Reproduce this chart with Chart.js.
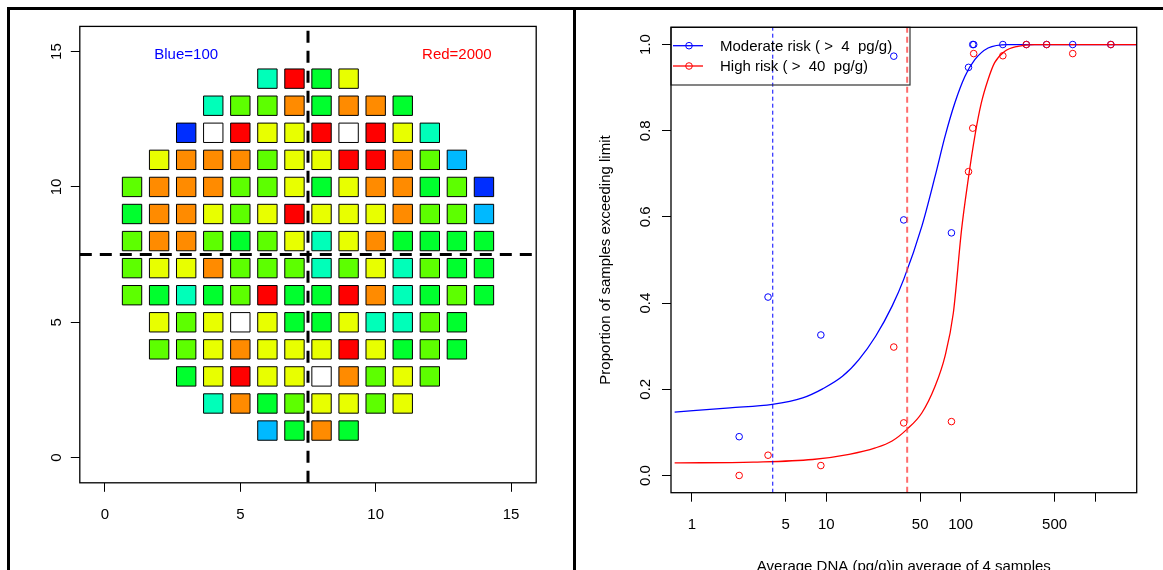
<!DOCTYPE html>
<html>
<head>
<meta charset="utf-8">
<script src="https://cdn.jsdelivr.net/npm/chart.js@4.4.0/dist/chart.umd.min.js"></script>
<style>
  html, body { margin: 0; padding: 0; background: #fff; }
  body { width: 1163px; height: 570px; position: relative; overflow: hidden; }
  .rule { position: absolute; background: #000; }
  #gridWrap { position: absolute; left: 10px; top: 10px; width: 563px; height: 560px; }
  #riskWrap { position: absolute; left: 577px; top: 10px; width: 586px; height: 560px; }
</style>
</head>
<body>
<div class="rule" style="left:7px; top:7px; width:1156px; height:3px;"></div>
<div class="rule" style="left:7px; top:7px; width:3px; height:563px;"></div>
<div class="rule" style="left:573px; top:7px; width:3px; height:563px;"></div>
<div id="gridWrap"><canvas id="gridChart" width="563" height="560"></canvas></div>
<div id="riskWrap"><canvas id="riskChart" width="586" height="560"></canvas></div>

<script>
Chart.defaults.font.family = '"Liberation Sans", Arial, Helvetica, sans-serif';
Chart.defaults.font.size = 15;
Chart.defaults.color = '#000';

// ---------- left panel: sampling grid ----------
// colour ramp, low (Blue=100) to high (Red=2000); last entry = white
const levelColors = ['#002EFF', '#00B9FF', '#00FFB9', '#00FF2E', '#5DFF00', '#E8FF00', '#FF8B00', '#FF0000', '#FFFFFF'];
const rowY      = [14, 13, 12, 11, 10, 9, 8, 7, 6, 5, 4, 3, 2, 1];
const rowStartX = [6, 4, 3, 2, 1, 1, 1, 1, 1, 2, 2, 3, 4, 6];
const rowLevels = [
  [2, 7, 3, 5],
  [2, 4, 4, 6, 3, 6, 6, 3],
  [0, 8, 7, 5, 5, 7, 8, 7, 5, 2],
  [5, 6, 6, 6, 4, 5, 5, 7, 7, 6, 4, 1],
  [4, 6, 6, 6, 4, 4, 5, 3, 5, 6, 6, 3, 4, 0],
  [3, 6, 6, 5, 4, 5, 7, 5, 5, 5, 6, 4, 4, 1],
  [4, 6, 6, 4, 3, 4, 5, 2, 5, 6, 3, 3, 3, 3],
  [4, 5, 5, 6, 4, 4, 4, 2, 4, 5, 2, 4, 3, 3],
  [4, 3, 2, 3, 4, 7, 3, 3, 7, 6, 2, 3, 4, 3],
  [5, 4, 5, 8, 5, 3, 3, 5, 2, 2, 4, 3],
  [4, 4, 5, 6, 5, 5, 5, 7, 5, 3, 4, 3],
  [3, 5, 7, 5, 5, 8, 6, 4, 5, 4],
  [2, 6, 3, 4, 5, 5, 4, 5],
  [1, 3, 6, 3]
];
const gridTicks = [0, 5, 10, 15];
const gridMin = -0.93, gridMax = 15.93;
const splitAt = 7.5;
const noteText = ['Blue=100', 'Red=2000'];
const noteX = [3, 13];
const noteY = 15;
const noteColors = ['#0000FF', '#FF0000'];

// ---------- right panel: exceedance curves ----------
const doseX     = [2.25, 3.69, 9.12, 31.8, 37.7, 85.4, 114.4, 123, 125, 206, 308, 436, 682, 1310];
const moderateY = [0.09, 0.414, 0.326, 0.973, 0.593, 0.563, 0.947, 1, 1, 1, 1, 1, 1, 1];
const highY     = [0.0, 0.047, 0.023, 0.298, 0.122, 0.125, 0.705, 0.806, 0.979, 0.974, 1, 1, 0.979, 1];
const moderateFitX = [0.745, 1.92, 3.97, 6.68, 9.4, 13.2, 17.5, 23.3, 30.9, 37.7, 51.4, 64.5, 76.5, 90.6, 107.5, 127.4, 160, 225, 2040];
const moderateFitY = [0.147, 0.157, 0.165, 0.180, 0.201, 0.230, 0.269, 0.323, 0.393, 0.455, 0.578, 0.694, 0.787, 0.865, 0.926, 0.965, 0.992, 1.0, 1.0];
const highFitX = [0.745, 2.86, 7.92, 14.8, 23.2, 30.9, 39.8, 51.4, 64.5, 76.5, 88.2, 101.6, 113.8, 127.4, 142.6, 160, 179, 212, 266, 353, 2040];
const highFitY = [0.029, 0.031, 0.037, 0.049, 0.064, 0.080, 0.107, 0.145, 0.207, 0.277, 0.377, 0.571, 0.687, 0.787, 0.865, 0.919, 0.958, 0.984, 0.996, 1.0, 1.0];
const limits = [4, 40];
const seriesNames = ['Moderate risk ( >  4  pg/g)', 'High risk ( >  40  pg/g)'];
const seriesColors = ['#0000FF', '#FF0000'];
const xTickValues = [1, 5, 10, 50, 100, 500, 1000];
const xTickLabels = ['1', '5', '10', '50', '100', '500', ''];
const yTickValues = [0, 0.2, 0.4, 0.6, 0.8, 1.0];
const xTitle = 'Average DNA (pg/g)in average of 4 samples';
const yTitle = 'Proportion of samples exceeding limit';

function toPoints(xs, ys) {
  return xs.map((x, i) => ({ x: x, y: ys[i] }));
}

// box round the plot region
const framePlugin = {
  id: 'frame',
  afterDraw(chart) {
    const { ctx, chartArea: a } = chart;
    ctx.save();
    ctx.strokeStyle = '#000';
    ctx.lineWidth = 1.3;
    ctx.strokeRect(a.left, a.top, a.right - a.left, a.bottom - a.top);
    ctx.restore();
  }
};

const axisCommon = {
  grid: { drawOnChartArea: false, drawTicks: true, tickLength: 9, color: '#000', lineWidth: 1 },
  border: { display: false }
};

// ----- grid chart -----
const gridPoints = [];
const gridFill = [];
rowY.forEach((y, r) => {
  rowLevels[r].forEach((lev, i) => {
    gridPoints.push({ x: rowStartX[r] + i, y: y });
    gridFill.push(levelColors[lev]);
  });
});

const gridExtras = {
  id: 'gridExtras',
  afterDatasetsDraw(chart) {
    const { ctx, chartArea: a, scales: { x, y } } = chart;
    ctx.save();
    ctx.beginPath();
    ctx.rect(a.left, a.top, a.right - a.left, a.bottom - a.top);
    ctx.clip();
    ctx.strokeStyle = '#000';
    ctx.lineWidth = 3;
    ctx.setLineDash([12, 8]);
    const px = x.getPixelForValue(splitAt);
    const py = y.getPixelForValue(splitAt);
    ctx.beginPath(); ctx.moveTo(px, a.bottom); ctx.lineTo(px, a.top); ctx.stroke();
    ctx.beginPath(); ctx.moveTo(a.left, py); ctx.lineTo(a.right, py); ctx.stroke();
    ctx.restore();

    ctx.save();
    ctx.font = '15px "Liberation Sans", Arial, sans-serif';
    ctx.textAlign = 'center';
    ctx.textBaseline = 'middle';
    noteText.forEach((t, i) => {
      ctx.fillStyle = noteColors[i];
      ctx.fillText(t, x.getPixelForValue(noteX[i]), y.getPixelForValue(noteY) + 3);
    });
    ctx.restore();
  }
};

new Chart(document.getElementById('gridChart'), {
  type: 'scatter',
  data: {
    datasets: [{
      data: gridPoints,
      pointStyle: 'rect',
      pointRadius: 13.7,
      pointBackgroundColor: gridFill,
      pointBorderColor: '#000',
      pointBorderWidth: 1
    }]
  },
  options: {
    responsive: false,
    animation: false,
    events: [],
    layout: { padding: { top: 16.4, right: 36.8, left: 0, bottom: 0 } },
    plugins: { legend: { display: false }, tooltip: { enabled: false } },
    scales: {
      x: {
        ...axisCommon,
        type: 'linear', min: gridMin, max: gridMax,
        afterBuildTicks: s => { s.ticks = gridTicks.map(v => ({ value: v })); },
        afterFit: s => { s.height = 87.2; },
        ticks: { padding: 14, autoSkip: false, maxRotation: 0 }
      },
      y: {
        ...axisCommon,
        type: 'linear', min: gridMin, max: gridMax,
        afterBuildTicks: s => { s.ticks = gridTicks.map(v => ({ value: v })); },
        afterFit: s => { s.width = 69.8; },
        ticks: { padding: 6, autoSkip: false, minRotation: 90, maxRotation: 90, crossAlign: 'center' }
      }
    }
  },
  plugins: [framePlugin, gridExtras]
});

// ----- risk chart -----
const riskExtras = {
  id: 'riskExtras',
  afterDatasetsDraw(chart) {
    const { ctx, chartArea: a, scales: { x } } = chart;
    ctx.save();
    // vertical limit lines
    let px = x.getPixelForValue(limits[0]);
    ctx.strokeStyle = '#0000FF';
    ctx.lineWidth = 1;
    ctx.setLineDash([4, 3]);
    ctx.beginPath(); ctx.moveTo(px, a.bottom); ctx.lineTo(px, a.top); ctx.stroke();
    px = x.getPixelForValue(limits[1]);
    ctx.strokeStyle = 'rgba(255, 60, 60, 0.75)';
    ctx.lineWidth = 2;
    ctx.setLineDash([6, 4]);
    ctx.beginPath(); ctx.moveTo(px, a.bottom); ctx.lineTo(px, a.top); ctx.stroke();
    ctx.restore();

    // legend box
    ctx.save();
    ctx.strokeStyle = '#333';
    ctx.lineWidth = 1.2;
    ctx.strokeRect(a.left, a.top, 239, 57.7);
    ctx.font = '15px "Liberation Sans", Arial, sans-serif';
    ctx.textBaseline = 'middle';
    ctx.textAlign = 'left';
    seriesNames.forEach((name, i) => {
      const cy = a.top + 18.4 + i * 20.3;
      ctx.strokeStyle = seriesColors[i];
      ctx.lineWidth = 1.3;
      ctx.beginPath(); ctx.moveTo(a.left + 2, cy); ctx.lineTo(a.left + 32, cy); ctx.stroke();
      ctx.lineWidth = 1;
      ctx.beginPath(); ctx.arc(a.left + 18, cy, 3.3, 0, Math.PI * 2); ctx.stroke();
      ctx.fillStyle = '#000';
      ctx.fillText(name, a.left + 49, cy + 1);
    });
    ctx.restore();
  }
};

new Chart(document.getElementById('riskChart'), {
  type: 'scatter',
  data: {
    datasets: [
      {
        label: seriesNames[1],
        data: toPoints(doseX, highY),
        pointStyle: 'circle', pointRadius: 3.3,
        pointBorderColor: seriesColors[1], pointBackgroundColor: 'rgba(0,0,0,0)', pointBorderWidth: 1
      },
      {
        label: seriesNames[0],
        data: toPoints(doseX, moderateY),
        pointStyle: 'circle', pointRadius: 3.3,
        pointBorderColor: seriesColors[0], pointBackgroundColor: 'rgba(0,0,0,0)', pointBorderWidth: 1
      },
      {
        data: toPoints(highFitX, highFitY),
        showLine: true, pointRadius: 0, borderColor: seriesColors[1], borderWidth: 1.3,
        cubicInterpolationMode: 'monotone'
      },
      {
        data: toPoints(moderateFitX, moderateFitY),
        showLine: true, pointRadius: 0, borderColor: seriesColors[0], borderWidth: 1.3,
        cubicInterpolationMode: 'monotone'
      }
    ]
  },
  options: {
    responsive: false,
    animation: false,
    events: [],
    layout: { padding: { top: 17.3, right: 26.3, left: 0, bottom: 0 } },
    plugins: { legend: { display: false }, tooltip: { enabled: false } },
    scales: {
      x: {
        ...axisCommon,
        type: 'logarithmic', min: 0.745, max: 2040,
        afterBuildTicks: s => { s.ticks = xTickValues.map(v => ({ value: v })); },
        afterFit: s => { s.height = 77.3; },
        ticks: {
          padding: 14, autoSkip: false, maxRotation: 0,
          callback: v => xTickLabels[xTickValues.indexOf(v)]
        },
        title: { display: true, text: xTitle, padding: { top: 0, bottom: -6 } }
      },
      y: {
        ...axisCommon,
        type: 'linear', min: -0.04, max: 1.04,
        afterBuildTicks: s => { s.ticks = yTickValues.map(v => ({ value: v })); },
        afterFit: s => { s.width = 94; },
        ticks: {
          padding: 6, autoSkip: false, minRotation: 90, maxRotation: 90, crossAlign: 'center',
          callback: v => Number(v).toFixed(1)
        },
        title: { display: true, text: yTitle, padding: { top: 20, bottom: 0 } }
      }
    }
  },
  plugins: [framePlugin, riskExtras]
});
</script>
</body>
</html>
